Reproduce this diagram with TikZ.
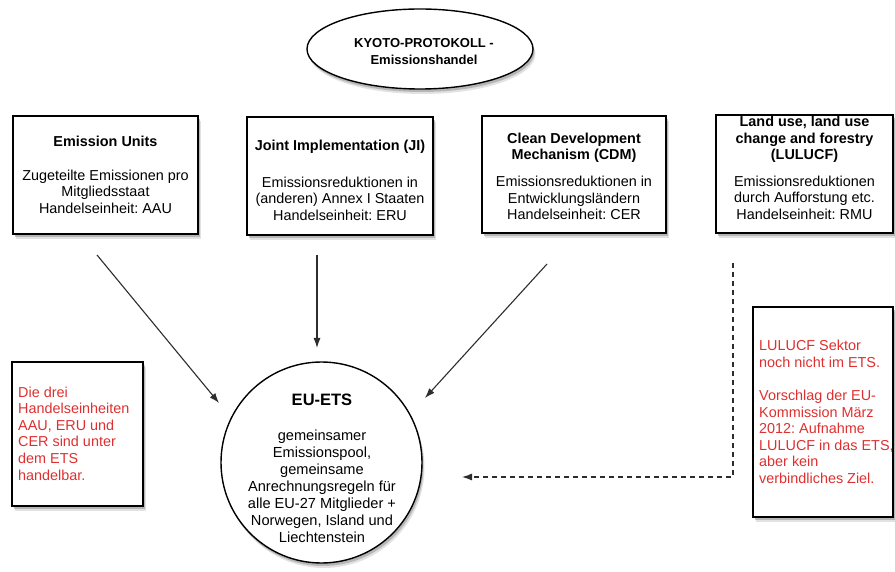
\documentclass[tikz,border=0pt]{standalone}
\usepackage{fontspec}
\setmainfont{Liberation Sans}
\usetikzlibrary{shapes.geometric,shadows,arrows.meta}
\definecolor{redtext}{RGB}{222,48,48}
\definecolor{linegray}{RGB}{45,45,45}
\tikzset{
  shad/.style={
    drop shadow={shadow xshift=2.5pt,shadow yshift=-5pt,fill=black!22,draw=none},
    drop shadow={shadow xshift=1.5pt,shadow yshift=-3pt,fill=black!45,draw=none}},
  unitbox/.style={draw=black,line width=1.4pt,fill=white,shad,inner sep=0pt},
  txt/.style={inner sep=0pt,align=center,font=\fontsize{14.4}{16.5}\selectfont},
  redtxt/.style={inner sep=0pt,align=left,anchor=west,text=redtext,font=\fontsize{14.4}{16.6}\selectfont},
  conn/.style={draw=linegray,line width=1.1pt,-{Latex[length=10pt,width=7pt]}},
  dconn/.style={draw=linegray,line width=1.1pt,dash pattern=on 5pt off 4pt,-{Latex[length=10pt,width=7pt]}}
}
\begin{document}
\frenchspacing
\begin{tikzpicture}[x=1pt,y=-1pt]
\useasboundingbox (0,0) rectangle (895,572);
\fill[white] (0,0) rectangle (895,572);

% top ellipse
\node[ellipse,unitbox,minimum width=226pt,minimum height=80pt] (kyoto) at (420,49) {};
\node[txt,font=\bfseries\fontsize{13}{17}\selectfont] (kyotot) at (424,52) {KYOTO-PROTOKOLL -\\Emissionshandel};

% four boxes
\node[unitbox,minimum width=185pt,minimum height=118pt] (b1) at (105.5,175) {};
\node[txt] (t1) at (105.5,174.5) {\textbf{Emission Units}\\[17.5pt]Zugeteilte Emissionen pro\\Mitgliedsstaat\\Handelseinheit: AAU};

\node[unitbox,minimum width=186pt,minimum height=118pt] (b2) at (340,176) {};
\node[txt] (t2) at (340,180) {\textbf{Joint Implementation (JI)}\\[20.5pt]Emissionsreduktionen in\\(anderen) Annex I Staaten\\Handelseinheit: ERU};

\node[unitbox,minimum width=184pt,minimum height=117pt] (b3) at (574,174.5) {};
\node[txt] (t3) at (574,176.5) {\textbf{Clean Development}\\\textbf{Mechanism (CDM)}\\[10.5pt]Emissionsreduktionen in\\Entwicklungsländern\\Handelseinheit: CER};

\node[unitbox,minimum width=177pt,minimum height=118pt] (b4) at (804.5,174) {};
\node[txt] (t4) at (804.5,168) {\textbf{Land use, land use}\\\textbf{change and forestry}\\\textbf{(LULUCF)}\\[10pt]Emissionsreduktionen\\durch Aufforstung etc.\\Handelseinheit: RMU};

% EU-ETS circle
\node[circle,unitbox,minimum size=201pt] (ets) at (321.5,462.5) {};
\node[txt,font=\fontsize{14.6}{17}\selectfont] (etst) at (322,468.5) {{\fontsize{16.5}{17}\selectfont\bfseries EU-ETS}\\[18pt]gemeinsamer\\Emissionspool,\\gemeinsame\\Anrechnungsregeln für\\alle EU-27 Mitglieder +\\Norwegen, Island und\\Liechtenstein};

% red note boxes
\node[unitbox,minimum width=131pt,minimum height=144pt] (nl) at (77.5,434) {};
\node[redtxt] (nlt) at (18,433.5) {Die drei\\Handelseinheiten\\AAU, ERU und\\CER sind unter\\dem ETS\\handelbar.};

\node[unitbox,minimum width=140pt,minimum height=210pt] (nr) at (823,412) {};
\node[redtxt] (nrt) at (759,412) {LULUCF Sektor\\noch nicht im ETS.\\[16.6pt]Vorschlag der EU-\\Kommission März\\2012: Aufnahme\\LULUCF in das ETS,\\aber kein\\verbindliches Ziel.};

% connector ends
\coordinate (s1) at (97,255);
\coordinate (e1) at (219,403);
\coordinate (s2) at (317,255);
\coordinate (e2) at (317,348);
\coordinate (s3) at (547,264);
\coordinate (e3) at (425,398);
\coordinate (s4) at (733,263);
\coordinate (c4) at (733,477);
\coordinate (e4) at (462,477);

\draw[conn] (s1) -- (e1);
\draw[conn] (s2) -- (e2);
\draw[conn] (s3) -- (e3);
\draw[dconn] (s4) -- (c4) -- (e4);
\end{tikzpicture}
\end{document}
